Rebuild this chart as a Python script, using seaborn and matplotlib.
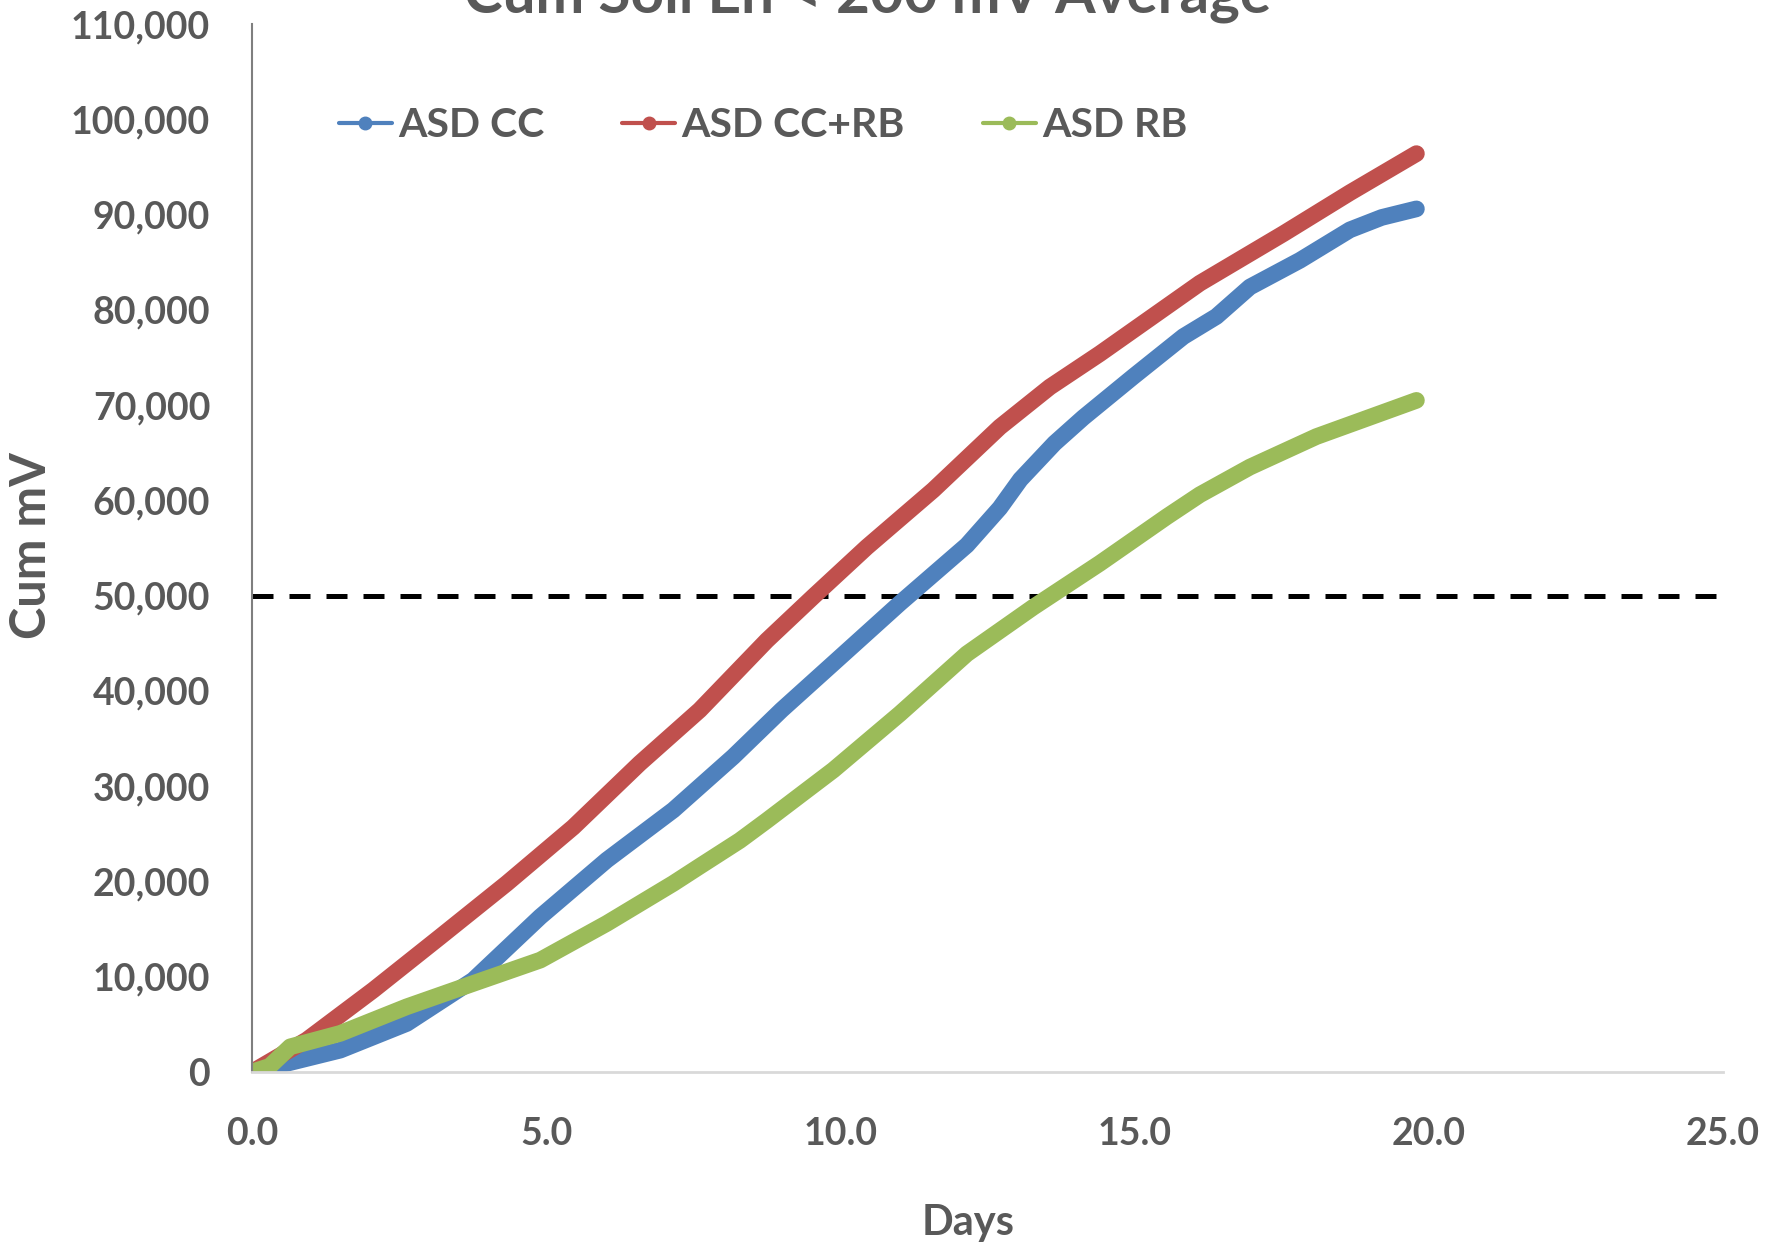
import numpy as np
import pandas as pd
import matplotlib
matplotlib.use("Agg")
import matplotlib.pyplot as plt
from matplotlib.lines import Line2D
import seaborn as sns

# values
cc_days = [0, 0.36, 1.5, 2.63, 3.76, 4.9, 6.03, 7.16, 8.18, 9.0, 9.88, 11.01, 12.15, 12.71,
           13.06, 13.64, 14.13, 14.98, 15.83, 16.39, 16.96, 17.81, 18.66, 19.2, 19.79]
cc_mv = [0, 560, 2300, 5100, 9650, 16300, 22250, 27500, 33100, 38000, 42900, 49200, 55300, 59200,
         62200, 66000, 68700, 73000, 77200, 79300, 82400, 85200, 88400, 89700, 90600]

ccrb_days = [0, 0.93, 2.06, 3.2, 4.33, 5.46, 6.59, 7.61, 8.75, 9.54, 10.45, 11.58, 12.71, 13.56,
             14.41, 15.26, 16.11, 17.53, 18.66, 19.79]
ccrb_mv = [0, 3360, 8600, 14200, 19800, 25700, 32400, 38000, 45300, 49900, 55100, 61100, 67700, 71900,
           75400, 79100, 82800, 88000, 92300, 96400]

rb_days = [0, 0.3, 0.65, 1.5, 2.63, 3.76, 4.9, 6.03, 7.16, 7.61, 8.29, 8.75, 9.88, 11.01, 12.15,
           13.28, 14.41, 15.55, 16.11, 16.96, 18.09, 19.79]
rb_mv = [0, 600, 2650, 4060, 6850, 9300, 11750, 15600, 19800, 21600, 24300, 26400, 31700, 37600, 43900,
         48800, 53400, 58300, 60600, 63500, 66700, 70500]

series_names = ["ASD CC", "ASD CC+RB", "ASD RB"]
colors = ["#4F81BD", "#C0504D", "#9BBB59"]
threshold = 50000

df = pd.concat([
    pd.DataFrame({"day": cc_days, "mv": cc_mv, "series": series_names[0]}),
    pd.DataFrame({"day": ccrb_days, "mv": ccrb_mv, "series": series_names[1]}),
    pd.DataFrame({"day": rb_days, "mv": rb_mv, "series": series_names[2]}),
])

sns.set_style("white")
plt.rcParams['font.family'] = ['Lato', 'DejaVu Sans']
plt.rcParams['font.weight'] = 'bold'
gray = "#595959"

fig = plt.figure(figsize=(17.77, 12.46), dpi=100)
ax = fig.add_axes([0.1418, 0.1396, 0.8278, 0.8411])

sns.lineplot(data=df, x="day", y="mv", hue="series", palette=colors, hue_order=series_names,
             sort=False, estimator=None, linewidth=12, legend=False, ax=ax)
for ln in ax.get_lines():
    ln.set_solid_capstyle("round")
    ln.set_solid_joinstyle("round")

ax.plot([0, 25.15], [threshold, threshold], color="black", lw=3.6,
        linestyle=(0, (4.2, 3.2)), clip_on=False, zorder=1)

ax.set_xlim(0, 25)
ax.set_ylim(0, 110000)
ax.set_xticks(np.arange(0, 26, 5))
ax.set_xticklabels([f"{v:.1f}" for v in np.arange(0, 26, 5)])
ax.set_yticks(np.arange(0, 110001, 10000))
ax.set_yticklabels([f"{v:,}" for v in range(0, 110001, 10000)])

ax.tick_params(axis="y", length=10, width=1.5, color=gray, pad=20, labelsize=27, labelcolor=gray)
ax.tick_params(axis="x", length=0, pad=32, labelsize=27, labelcolor=gray)
for t in ax.get_xticklabels() + ax.get_yticklabels():
    t.set_fontweight("bold")

sns.despine(ax=ax)
ax.spines["left"].set_color("#7f7f7f")
ax.spines["left"].set_linewidth(1.5)
ax.spines["bottom"].set_color("#d9d9d9")
ax.spines["bottom"].set_linewidth(2)

ax.set_xlabel("Days", fontsize=30, fontweight="bold", color=gray, va="center")
ax.xaxis.set_label_coords(0.487, -0.144)
ax.set_ylabel("Cum mV", fontsize=35, fontweight="bold", color=gray, va="center")
ax.yaxis.set_label_coords(-0.150, 0.502)

fig.text(0.488, 0.9896, "Cum Soil Eh < 200 mV Average", ha="center", va="baseline",
         fontsize=42, fontweight="bold", color=gray)

handles = [Line2D([], [], color=c, lw=3, marker="o", markersize=9) for c in colors]
fig.legend(handles, series_names, loc="center left", bbox_to_anchor=(0.179, 0.899), ncol=3,
           frameon=False, handlelength=1.3, handletextpad=0.15,
           columnspacing=1.9, borderpad=0, labelcolor=gray, prop={"weight": "bold", "size": 29.5})

fig.savefig("out.png", dpi=100)
